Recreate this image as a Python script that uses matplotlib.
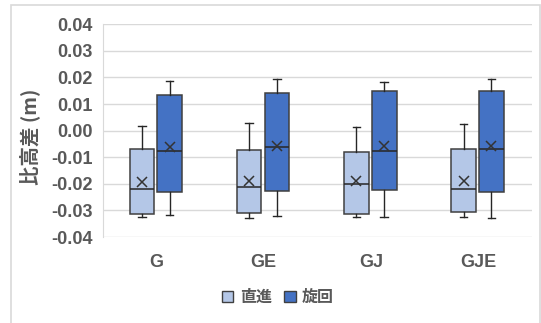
import matplotlib
matplotlib.use("Agg")
import matplotlib.pyplot as plt
from matplotlib.patches import Rectangle, Patch

plt.rcParams['font.family'] = ['Liberation Sans', 'Noto Sans CJK JP', 'DejaVu Sans']

categories = ["G", "GE", "GJ", "GJE"]
series = ["直進", "旋回"]
colors = ["#B4C7E7", "#4472C4"]

# 直進 (straight)
s_whislo = [-0.0326, -0.0330, -0.0325, -0.0325]
s_q1     = [-0.0312, -0.0308, -0.0312, -0.0305]
s_med    = [-0.0218, -0.0211, -0.0201, -0.0218]
s_q3     = [-0.0069, -0.0073, -0.0081, -0.0069]
s_whishi = [0.0019, 0.0028, 0.0015, 0.0024]
s_mean   = [-0.0192, -0.0189, -0.0189, -0.0189]

# 旋回 (turning)
t_whislo = [-0.0317, -0.0321, -0.0325, -0.0330]
t_q1     = [-0.0230, -0.0226, -0.0222, -0.0230]
t_med    = [-0.0076, -0.0063, -0.0076, -0.0068]
t_q3     = [0.0135, 0.0143, 0.0148, 0.0148]
t_whishi = [0.0186, 0.0193, 0.0182, 0.0193]
t_mean   = [-0.0060, -0.0057, -0.0057, -0.0057]

yticks = [-0.04, -0.03, -0.02, -0.01, 0.00, 0.01, 0.02, 0.03, 0.04]

fig = plt.figure(figsize=(5.41, 3.23), dpi=100)
fig.patches.append(Rectangle((11/541, -0.1), (540-11)/541, 1.1 - 5/323, transform=fig.transFigure,
                             fill=False, edgecolor="#D9D9D9", linewidth=1.2))
ax = fig.add_axes([102.7/541, 1-237/323, 429/541, (237-24.3)/323])

def stats(wl, q1, med, q3, wh, mean):
    return [dict(whislo=a, q1=b, med=c, q3=d, whishi=e, mean=f, fliers=[])
            for a, b, c, d, e, f in zip(wl, q1, med, q3, wh, mean)]

all_stats = [stats(s_whislo, s_q1, s_med, s_q3, s_whishi, s_mean),
             stats(t_whislo, t_q1, t_med, t_q3, t_whishi, t_mean)]
offsets = [-0.135, 0.125]
for k in range(2):
    pos = [i + offsets[k] for i in range(len(categories))]
    ax.bxp(all_stats[k], positions=pos, widths=0.23, patch_artist=True,
           showmeans=True, showfliers=False, capwidths=0.07,
           boxprops=dict(facecolor=colors[k], edgecolor="#404040", linewidth=1.1),
           medianprops=dict(color="#262626", linewidth=1.1),
           whiskerprops=dict(color="#262626", linewidth=1.0),
           capprops=dict(color="#262626", linewidth=1.0),
           meanprops=dict(marker="x", markeredgecolor="#333333", markersize=7, markeredgewidth=1.1),
           zorder=3)

ax.set_xlim(-0.5, 3.5)
ax.set_ylim(-0.04, 0.04)
ax.set_yticks(yticks)
ax.set_yticklabels(["0.00" if abs(v) < 1e-9 else f"{v:.2f}" for v in yticks])
ax.set_xticks(range(len(categories)))
ax.set_xticklabels(categories)
ax.tick_params(axis='both', length=0, colors="#595959", labelsize=13)
ax.tick_params(axis='y', pad=7)
ax.tick_params(axis='x', pad=12)
for lab in ax.get_xticklabels() + ax.get_yticklabels():
    lab.set_fontweight("bold")
ax.grid(axis='y', color="#D9D9D9", linewidth=1.0, zorder=0)
for s in ["top", "right", "bottom"]:
    ax.spines[s].set_visible(False)
ax.spines["left"].set_color("#D9D9D9")
ax.set_ylabel("比高差 (m)", fontsize=14, color="#595959", fontweight="bold",
              family=['Noto Sans CJK JP', 'DejaVu Sans'])
ax.yaxis.set_label_coords(-(102.7-40)/429, 0.47)

handles = [Patch(facecolor=colors[k], edgecolor="#404040", label=series[k]) for k in range(2)]
leg = fig.legend(handles=handles, loc="center", bbox_to_anchor=(278/541, 1-297/323), ncol=2,
                 frameon=False, handlelength=0.7, handleheight=0.7,
                 handletextpad=0.4, columnspacing=0.8,
                 prop=dict(family=['Noto Sans CJK JP', 'DejaVu Sans'], size=11.5, weight='bold'))
for t in leg.get_texts():
    t.set_color("#595959")

fig.savefig("out.png", dpi=100)
